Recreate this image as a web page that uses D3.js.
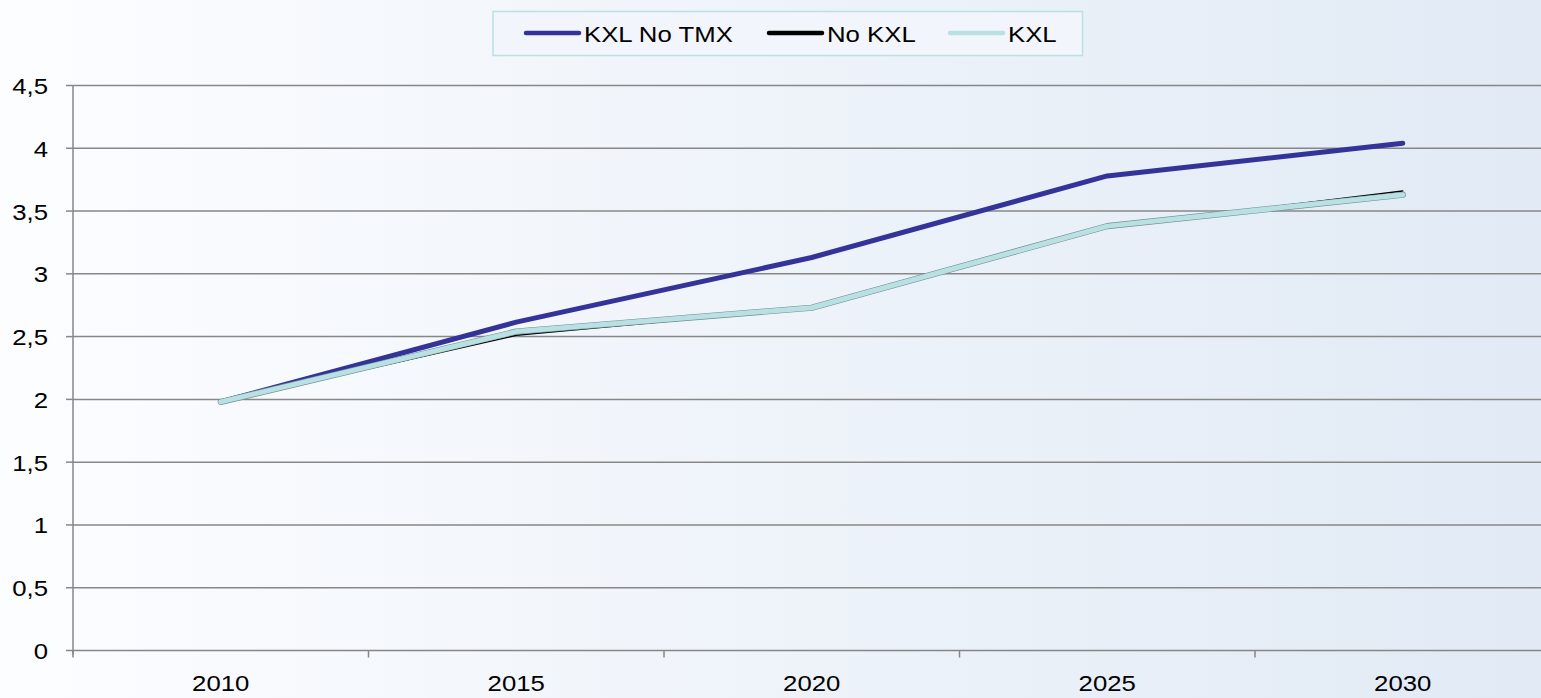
<!DOCTYPE html>
<html>
<head>
<meta charset="utf-8">
<script src="https://cdn.jsdelivr.net/npm/d3@7"></script>
<style>
  html, body { margin: 0; padding: 0; overflow: hidden; }
  body { font-family: "Liberation Sans", Arial, sans-serif; }
</style>
</head>
<body>
<script>

// data
var years = ["2010", "2015", "2020", "2025", "2030"];
var kxlNoTmx = [1.98, 2.615, 3.13, 3.78, 4.04];
var noKxl = [1.98, 2.51, 2.73, 3.37, 3.66];
var kxl = [1.98, 2.54, 2.73, 3.38, 3.63];
var yTicks = [0, 0.5, 1, 1.5, 2, 2.5, 3, 3.5, 4, 4.5];

var seriesList = [
    { name: "KXL No TMX", values: kxlNoTmx, color: "#333399", width: 5 },
    { name: "No KXL", values: noKxl, color: "#000000", width: 1.5 },
    { name: "KXL", values: kxl, color: "#B9E0E3", width: 5, outline: "#6F8F92" }
];

var w = 1541;
var h = 698;
var padLeft = 73, padRight = 1550.5, padTop = 85.5, padBottom = 650.5;

// chart text looks a bit stretched sideways
var fontSize = 23;
var stretch = 1.12;

var svg = d3.select("body")
    .append("svg")
    .attr("width", w)
    .attr("height", h);

// background gradient
var grad = svg.append("defs").append("linearGradient")
    .attr("id", "bg")
    .attr("x1", "0%").attr("x2", "100%")
    .attr("y1", "0%").attr("y2", "0%");
grad.append("stop").attr("offset", "0%").attr("stop-color", "#FCFDFF");
grad.append("stop").attr("offset", "100%").attr("stop-color", "#E1EAF5");

svg.append("rect")
    .attr("width", w)
    .attr("height", h)
    .attr("fill", "url(#bg)");

var xScale = d3.scaleBand()
    .domain(years)
    .range([padLeft, padRight]);

var yScale = d3.scaleLinear()
    .domain([0, 4.5])
    .range([padBottom, padTop]);

var fmt = function(d) { return String(d).replace(".", ","); };

// gridlines
svg.append("g")
    .selectAll("line")
    .data(yTicks.slice(1))
    .enter()
    .append("line")
    .attr("x1", padLeft)
    .attr("x2", w)
    .attr("y1", function(d) { return yScale(d); })
    .attr("y2", function(d) { return yScale(d); })
    .attr("stroke", "#878787")
    .attr("stroke-width", 1.5);

// y axis
var yg = svg.append("g");
yg.append("line")
    .attr("x1", padLeft).attr("x2", padLeft)
    .attr("y1", padTop).attr("y2", padBottom + 4)
    .attr("stroke", "#878787")
    .attr("stroke-width", 1.5);
yg.selectAll(".yt")
    .data(yTicks)
    .enter()
    .append("line")
    .attr("class", "yt")
    .attr("x1", padLeft - 7)
    .attr("x2", padLeft)
    .attr("y1", function(d) { return yScale(d); })
    .attr("y2", function(d) { return yScale(d); })
    .attr("stroke", "#878787")
    .attr("stroke-width", 1.5);
yg.selectAll("text")
    .data(yTicks)
    .enter()
    .append("text")
    .attr("transform", function(d) {
        return "translate(48," + (yScale(d) + 8.5) + ") scale(" + stretch + ",1)";
    })
    .attr("text-anchor", "end")
    .style("font-size", fontSize + "px")
    .text(fmt);

// x axis: ticks between categories
var xg = svg.append("g")
    .attr("transform", "translate(0," + padBottom + ")");
xg.append("line")
    .attr("x1", padLeft).attr("x2", w)
    .attr("stroke", "#878787")
    .attr("stroke-width", 1.5);
xg.selectAll(".xt")
    .data(years)
    .enter()
    .append("line")
    .attr("class", "xt")
    .attr("x1", function(d) { return xScale(d); })
    .attr("x2", function(d) { return xScale(d); })
    .attr("y1", 0)
    .attr("y2", 7)
    .attr("stroke", "#878787")
    .attr("stroke-width", 1.5);
xg.selectAll("text")
    .data(years)
    .enter()
    .append("text")
    .attr("transform", function(d) {
        return "translate(" + (xScale(d) + xScale.bandwidth() / 2) + ",40.5) scale(" + stretch + ",1)";
    })
    .attr("text-anchor", "middle")
    .style("font-size", fontSize + "px")
    .text(function(d) { return d; });

// lines
var line = d3.line()
    .x(function(d, i) { return xScale(years[i]) + xScale.bandwidth() / 2; })
    .y(function(d) { return yScale(d); });

seriesList.forEach(function(s) {
    if (s.outline) {
        // thin darker edge round the light line
        svg.append("path")
            .datum(s.values)
            .attr("d", line)
            .attr("fill", "none")
            .attr("stroke", s.outline)
            .attr("stroke-width", s.width + 1.2)
            .attr("stroke-linecap", "round")
            .attr("stroke-linejoin", "round");
    }
    svg.append("path")
        .datum(s.values)
        .attr("d", line)
        .attr("fill", "none")
        .attr("stroke", s.color)
        .attr("stroke-width", s.width)
        .attr("stroke-linecap", "round")
        .attr("stroke-linejoin", "round");
});

// legend
var legend = svg.append("g");
legend.append("rect")
    .attr("x", 493)
    .attr("y", 11.5)
    .attr("width", 589.5)
    .attr("height", 44)
    .attr("fill", "#F2F6FC")
    .attr("stroke", "#B9E0E3")
    .attr("stroke-width", 1.5);

var legendX = [526, 769, 950];
seriesList.forEach(function(s, i) {
    legend.append("line")
        .attr("x1", legendX[i])
        .attr("x2", legendX[i] + 53)
        .attr("y1", 33)
        .attr("y2", 33)
        .attr("stroke", s.color)
        .attr("stroke-width", 4.5)
        .attr("stroke-linecap", "round");
    legend.append("text")
        .attr("transform", "translate(" + (legendX[i] + 58) + ",41.5) scale(" + stretch + ",1)")
        .style("font-size", fontSize + "px")
        .text(s.name);
});

</script>
</body>
</html>
